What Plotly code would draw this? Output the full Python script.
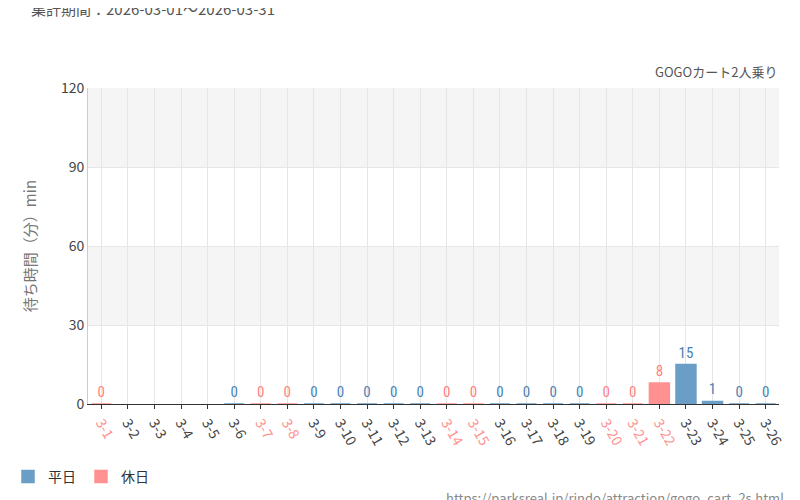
import plotly.graph_objects as go

days = [f"3-{d}" for d in range(1, 32)]
holidays = {1, 7, 8, 14, 15, 20, 21, 22, 28, 29}
weekday_vals = {6: 0, 9: 0, 10: 0, 11: 0, 12: 0, 13: 0, 16: 0, 17: 0, 18: 0, 19: 0, 23: 15, 24: 1, 25: 0, 26: 0}
holiday_vals = {1: 0, 7: 0, 8: 0, 14: 0, 15: 0, 20: 0, 21: 0, 22: 8}

BLUE = "#6a9ec6"
PINK = "#ff9190"
BLUE_T = "#4a82b4"
PINK_T = "#ff7f7f"

wx = [f"3-{d}" for d in weekday_vals]
wy = list(weekday_vals.values())
hx = [f"3-{d}" for d in holiday_vals]
hy = list(holiday_vals.values())

fig = go.Figure()
fig.add_bar(x=wx, y=wy, name="平日", marker=dict(color=BLUE, line=dict(color=BLUE, width=1.5)),
            width=0.75, text=[str(v) for v in wy], textposition="outside",
            textfont=dict(color=BLUE_T, size=15, family="Roboto Condensed, Noto Sans"), cliponaxis=False)
fig.add_bar(x=hx, y=hy, name="休日", marker=dict(color=PINK, line=dict(color=PINK, width=1.5)),
            width=0.75, text=[str(v) for v in hy], textposition="outside",
            textfont=dict(color=PINK_T, size=15, family="Roboto Condensed, Noto Sans"), cliponaxis=False)

ticktext = [f"<span style='color:{PINK}'>{d}</span>" if i + 1 in holidays else d for i, d in enumerate(days)]

shapes = []
for y0, y1 in [(30, 60), (90, 120)]:
    shapes.append(dict(type="rect", xref="paper", yref="y", x0=0, x1=1, y0=y0, y1=y1,
                       fillcolor="#f5f5f5", line=dict(width=0), layer="below"))

fig.update_layout(
    width=800, height=500, barmode="overlay", plot_bgcolor="white", paper_bgcolor="white",
    margin=dict(l=80, r=29, t=80, b=100),
    font=dict(family="Noto Sans CJK JP, Noto Sans", color="#555"),
    shapes=shapes,
    xaxis=dict(type="category", categoryorder="array", categoryarray=days, tickvals=days, ticktext=ticktext,
               tickangle=60, tickfont=dict(size=14, color="#444"), showgrid=True, gridcolor="#e6e6e6",
               showline=True, linecolor="#333", ticks="outside", ticklen=4, tickcolor="#333"),
    yaxis=dict(range=[0, 120], tickvals=[0, 30, 60, 90, 120], tickfont=dict(size=14, color="#444"),
               showgrid=True, gridcolor="#e6e6e6", zeroline=False, showline=True, linecolor="#ccc",
               title=dict(text="待ち時間（分）min", font=dict(size=15, color="#777"), standoff=20)),
    legend=dict(orientation="h", x=0.0, xref="container", y=0.03, yref="container", xanchor="left",
                yanchor="bottom", font=dict(size=14, color="#333"), traceorder="normal"),
    annotations=[
        dict(text="集計期間：2026-03-01～2026-03-31", xref="paper", yref="paper", x=-0.085, y=1.25,
             xanchor="left", yanchor="middle", showarrow=False, font=dict(size=15, color="#555")),
        dict(text="GOGOカート2人乗り", xref="paper", yref="paper", x=1, y=1.015, xanchor="right",
             yanchor="bottom", showarrow=False, font=dict(size=13, color="#555")),
        dict(text="https://parksreal.jp/rindo/attraction/gogo_cart_2s.html", xref="paper", yref="paper",
             x=1.01, y=-0.26, xanchor="right", yanchor="top", showarrow=False,
             font=dict(size=13, color="#888")),
    ],
)
fig.write_html("out.html")
